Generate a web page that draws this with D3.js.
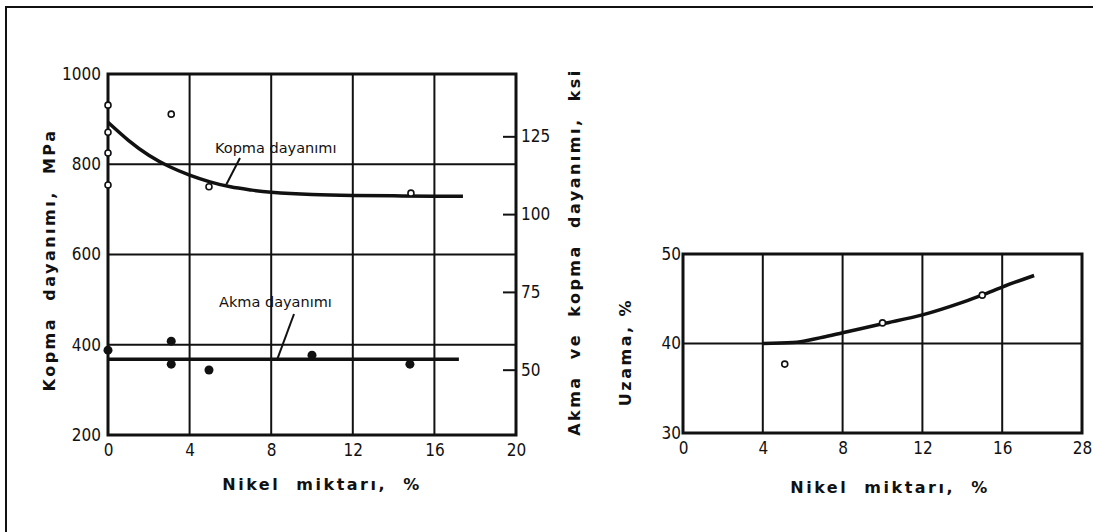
<!DOCTYPE html>
<html><head><meta charset="utf-8">
<script src="https://cdn.jsdelivr.net/npm/d3@7"></script>
<style>
body{margin:0;background:#fff;}
svg{display:block;}
.tick text{font-family:"DejaVu Sans Condensed","DejaVu Sans",sans-serif;font-size:17px;fill:#111;}
.title{font-family:"DejaVu Sans",sans-serif;font-weight:bold;font-size:16px;fill:#111;letter-spacing:2.5px;}
.lab{font-family:"DejaVu Sans",sans-serif;font-size:14.5px;fill:#111;}
</style></head><body>
<script>
// ---- Left chart data (Nikel %, MPa) ----
const xTicksL = [0, 4, 8, 12, 16, 20];
const yTicksL = [200, 400, 600, 800, 1000];
const ksiTicks = [50, 75, 100, 125];
const kopmaCurveX = [0, 1, 2, 3, 4, 5, 6, 7, 8, 10, 12, 14, 16, 17.4];
const kopmaCurveY = [893, 853, 820, 795, 776, 761, 750, 743, 738, 733, 731, 730, 729, 729];
const kopmaPtsX = [0, 0, 0, 0, 3.1, 4.95, 14.85];
const kopmaPtsY = [931, 871, 825, 754, 911, 750, 736];
const akmaLineX = [0, 17.2];
const akmaLineY = [368, 368];
const akmaPtsX = [0, 3.1, 3.1, 4.95, 10, 14.8];
const akmaPtsY = [388, 408, 357, 344, 377, 357];
// ---- Right chart data (Nikel %, Uzama %) ----
const xTicksR = [0, 4, 8, 12, 16, 20];
const xTickLabelsR = ["0", "4", "8", "12", "16", "28"];
const yTicksR = [30, 40, 50];
const uzamaCurveX = [4, 5.5, 7, 8, 10, 12, 14, 15, 16, 17.6];
const uzamaCurveY = [40, 40.1, 40.7, 41.2, 42.2, 43.2, 44.6, 45.4, 46.3, 47.6];
const uzamaPtsX = [5.1, 10, 15];
const uzamaPtsY = [37.7, 42.3, 45.4];

const MPA_PER_KSI = 6.895;

const svg = d3.select("body").append("svg").attr("width", 1093).attr("height", 532);
// outer frame
svg.append("path").attr("d", "M6,540 L6,7 L1100,7").attr("fill", "none").attr("stroke", "#111").attr("stroke-width", 2);

function styleAxis(g) {
  g.select(".domain").remove();
  g.selectAll(".tick line").remove();
}

// ================= LEFT CHART =================
const xL = d3.scaleLinear().domain([0, 20]).range([108, 516]);
const yL = d3.scaleLinear().domain([200, 1000]).range([435, 74]);
const L = svg.append("g");

L.selectAll(".vg").data(xTicksL.slice(1, -1)).join("line")
  .attr("x1", d => xL(d)).attr("x2", d => xL(d)).attr("y1", yL(1000)).attr("y2", yL(200))
  .attr("stroke", "#111").attr("stroke-width", 2);
L.selectAll(".hg").data(yTicksL.slice(1, -1)).join("line")
  .attr("x1", xL(0)).attr("x2", xL(20)).attr("y1", d => yL(d)).attr("y2", d => yL(d))
  .attr("stroke", "#111").attr("stroke-width", 2);
L.append("rect").attr("x", xL(0)).attr("y", yL(1000)).attr("width", xL(20) - xL(0)).attr("height", yL(200) - yL(1000))
  .attr("fill", "none").attr("stroke", "#111").attr("stroke-width", 3);

L.append("g").attr("transform", `translate(0,${yL(200)})`)
  .call(d3.axisBottom(xL).tickValues(xTicksL).tickFormat(d3.format("d")).tickSize(0).tickPadding(9))
  .call(styleAxis);
L.append("g").attr("transform", `translate(${xL(0)},0)`)
  .call(d3.axisLeft(yL).tickValues(yTicksL).tickFormat(d3.format("d")).tickSize(0).tickPadding(7))
  .call(styleAxis);
const yKsi = d3.scaleLinear().domain([200 / MPA_PER_KSI, 1000 / MPA_PER_KSI]).range([435, 74]);
const ra = L.append("g").attr("transform", `translate(${xL(20)},0)`)
  .call(d3.axisRight(yKsi).tickValues(ksiTicks).tickFormat(d3.format("d")).tickSize(0).tickPadding(5));
ra.select(".domain").remove();
ra.selectAll(".tick line").remove();
ra.selectAll(".tick").append("line").attr("x1", -13).attr("x2", 0).attr("stroke", "#111").attr("stroke-width", 2);

const lineL = d3.line().x(d => xL(d[0])).y(d => yL(d[1])).curve(d3.curveNatural);
L.append("path").attr("d", lineL(d3.zip(kopmaCurveX, kopmaCurveY)))
  .attr("fill", "none").attr("stroke", "#111").attr("stroke-width", 3.5);
L.append("path").attr("d", lineL(d3.zip(akmaLineX, akmaLineY)))
  .attr("fill", "none").attr("stroke", "#111").attr("stroke-width", 3.5);
L.selectAll(".kp").data(d3.zip(kopmaPtsX, kopmaPtsY)).join("circle")
  .attr("cx", d => xL(d[0])).attr("cy", d => yL(d[1])).attr("r", 3)
  .attr("fill", "#fff").attr("stroke", "#111").attr("stroke-width", 1.6);
L.selectAll(".ap").data(d3.zip(akmaPtsX, akmaPtsY)).join("circle")
  .attr("cx", d => xL(d[0])).attr("cy", d => yL(d[1])).attr("r", 4.5).attr("fill", "#111");

L.append("text").attr("class", "lab").attr("x", 215).attr("y", 153).text("Kopma dayanımı");
L.append("line").attr("x1", xL(5.8)).attr("y1", yL(755)).attr("x2", 240).attr("y2", 158).attr("stroke", "#111").attr("stroke-width", 2);
L.append("text").attr("class", "lab").attr("x", 219).attr("y", 307).text("Akma dayanımı");
L.append("line").attr("x1", xL(8.3)).attr("y1", yL(368)).attr("x2", 294).attr("y2", 314).attr("stroke", "#111").attr("stroke-width", 2);

L.append("text").attr("class", "title").attr("x", 322).attr("y", 490).attr("text-anchor", "middle").attr("xml:space", "preserve")
  .text("Nikel  miktarı,  %");
L.append("text").attr("class", "title").attr("transform", "translate(55,260) rotate(-90)").attr("text-anchor", "middle").attr("xml:space", "preserve")
  .text("Kopma  dayanımı,  MPa");
L.append("text").attr("class", "title").attr("transform", "translate(580,252) rotate(-90)").attr("text-anchor", "middle").attr("xml:space", "preserve")
  .text("Akma  ve  kopma  dayanımı,  ksi");

// ================= RIGHT CHART =================
const xR = d3.scaleLinear().domain([0, 20]).range([683, 1082]);
const yR = d3.scaleLinear().domain([30, 50]).range([433, 254]);
const R = svg.append("g");
R.selectAll(".vg").data(xTicksR.slice(1, -1)).join("line")
  .attr("x1", d => xR(d)).attr("x2", d => xR(d)).attr("y1", yR(50)).attr("y2", yR(30))
  .attr("stroke", "#111").attr("stroke-width", 2);
R.selectAll(".hg").data(yTicksR.slice(1, -1)).join("line")
  .attr("x1", xR(0)).attr("x2", xR(20)).attr("y1", d => yR(d)).attr("y2", d => yR(d))
  .attr("stroke", "#111").attr("stroke-width", 2);
R.append("rect").attr("x", xR(0)).attr("y", yR(50)).attr("width", xR(20) - xR(0)).attr("height", yR(30) - yR(50))
  .attr("fill", "none").attr("stroke", "#111").attr("stroke-width", 3);
R.append("g").attr("transform", `translate(0,${yR(30)})`)
  .call(d3.axisBottom(xR).tickValues(xTicksR).tickFormat((d, i) => xTickLabelsR[i]).tickSize(0).tickPadding(9))
  .call(styleAxis);
R.append("g").attr("transform", `translate(${xR(0)},0)`)
  .call(d3.axisLeft(yR).tickValues(yTicksR).tickFormat(d3.format("d")).tickSize(0).tickPadding(2))
  .call(styleAxis);
const lineR = d3.line().x(d => xR(d[0])).y(d => yR(d[1])).curve(d3.curveMonotoneX);
R.append("path").attr("d", lineR(d3.zip(uzamaCurveX, uzamaCurveY)))
  .attr("fill", "none").attr("stroke", "#111").attr("stroke-width", 3.5);
R.selectAll(".up").data(d3.zip(uzamaPtsX, uzamaPtsY)).join("circle")
  .attr("cx", d => xR(d[0])).attr("cy", d => yR(d[1])).attr("r", 3)
  .attr("fill", "#fff").attr("stroke", "#111").attr("stroke-width", 1.6);
R.append("text").attr("class", "title").attr("x", 890).attr("y", 493).attr("text-anchor", "middle").attr("xml:space", "preserve")
  .text("Nikel  miktarı,  %");
R.append("text").attr("class", "title").attr("transform", "translate(631,352) rotate(-90)").attr("text-anchor", "middle")
  .text("Uzama, %");
</script>
</body></html>
